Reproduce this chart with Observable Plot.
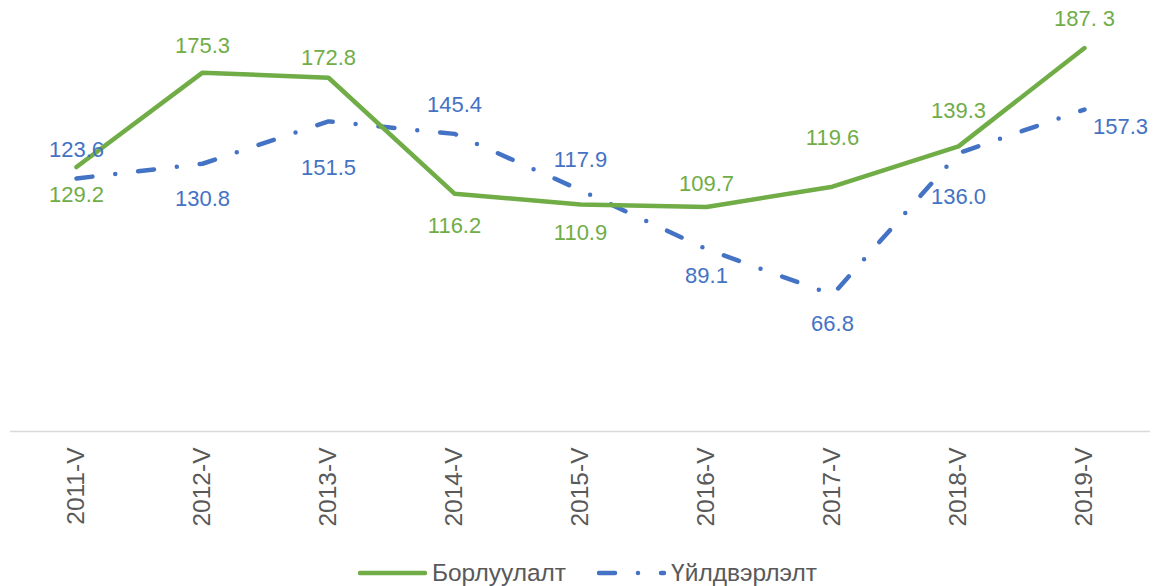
<!DOCTYPE html>
<html>
<head>
<meta charset="utf-8">
<script src="https://cdn.jsdelivr.net/npm/d3@7"></script>
<script src="https://cdn.jsdelivr.net/npm/@observablehq/plot@0.6"></script>
<style>
  body { margin: 0; background: #fff; font-family: "Liberation Sans", Arial, sans-serif; }
  #chart svg { display: block; }
  #legend { height: 46px; display: flex; align-items: center; justify-content: center; font-size: 24.5px; color: #595959; padding-left: 19px; }
  .item { display: flex; align-items: center; }
  .item svg { display: block; margin-right: 5px; }
  .item + .item { margin-left: 31px; }
</style>
</head>
<body>
<div id="chart"></div>
<div id="legend"></div>
<script>
// ---- data ----
const categories = ["2011-V", "2012-V", "2013-V", "2014-V", "2015-V", "2016-V", "2017-V", "2018-V", "2019-V"];
const seriesNames = ["Борлуулалт", "Үйлдвэрлэлт"];
const salesValues = [129.2, 175.3, 172.8, 116.2, 110.9, 109.7, 119.6, 139.3, 187.3];
const productionValues = [123.6, 130.8, 151.5, 145.4, 117.9, 89.1, 66.8, 136.0, 157.3];
const salesLabels = ["129.2", "175.3", "172.8", "116.2", "110.9", "109.7", "119.6", "139.3", "187. 3"];
const productionLabels = ["123.6", "130.8", "151.5", "145.4", "117.9", "89.1", "66.8", "136.0", "157.3"];

// ---- label placement (pixel offsets of the data labels) ----
const salesLabelDy = [28, -27, -20, 32, 28, -23, -49, -35, -29];
const productionLabelDy = [-29, 35, 47, -29, -30, 27, 29, 44, 17];
const productionLabelDx = [0, 0, 0, 0, 0, 0, 0, 0, 36];

const colors = { sales: "#70AD47", production: "#4472C4", text: "#595959", axis: "#D9D9D9" };
const dash = "16,23,0,23";
const labelSize = 22;
const tickSize = 24.5;

const sales = categories.map((c, i) => ({ cat: c, value: salesValues[i], label: salesLabels[i] }));
const production = categories.map((c, i) => ({ cat: c, value: productionValues[i], label: productionLabels[i] }));

const chart = Plot.plot({
  width: 1156,
  height: 550,
  marginLeft: 10,
  marginRight: 6,
  marginTop: 21.6,
  marginBottom: 119,
  style: { fontFamily: "Liberation Sans, Arial, sans-serif", background: "#fff" },
  x: { type: "point", domain: categories, padding: 0.5, label: null },
  y: { domain: [0, 200], axis: null },
  marks: [
    Plot.ruleY([0], { stroke: colors.axis, strokeWidth: 1.5 }),
    Plot.axisX({ tickRotate: -90, tickSize: 0, tickPadding: 16, fontSize: tickSize, fill: colors.text, label: null }),
    Plot.line(production, { x: "cat", y: "value", stroke: colors.production, strokeWidth: 4.5, strokeDasharray: dash, strokeLinecap: "round", strokeLinejoin: "round" }),
    Plot.line(sales, { x: "cat", y: "value", stroke: colors.sales, strokeWidth: 4.5, strokeLinecap: "round", strokeLinejoin: "round" }),
    ...sales.map((d, i) => Plot.text([d], { x: "cat", y: "value", text: "label", dy: salesLabelDy[i], fill: colors.sales, fontSize: labelSize })),
    ...production.map((d, i) => Plot.text([d], { x: "cat", y: "value", text: "label", dy: productionLabelDy[i], dx: productionLabelDx[i], fill: colors.production, fontSize: labelSize }))
  ]
});
document.getElementById("chart").appendChild(chart);

// ---- legend ----
const legend = document.getElementById("legend");
[[seriesNames[0], colors.sales, null], [seriesNames[1], colors.production, dash]].forEach(([name, color, da]) => {
  const item = document.createElement("div");
  item.className = "item";
  const w = 65;
  item.innerHTML = `<svg width="${w + 4}" height="10"><line x1="2" x2="${w + 2}" y1="5" y2="5" stroke="${color}" stroke-width="4.5" stroke-linecap="round" ${da ? `stroke-dasharray="${da}"` : ""}/></svg><span>${name}</span>`;
  legend.appendChild(item);
});
</script>
</body>
</html>
